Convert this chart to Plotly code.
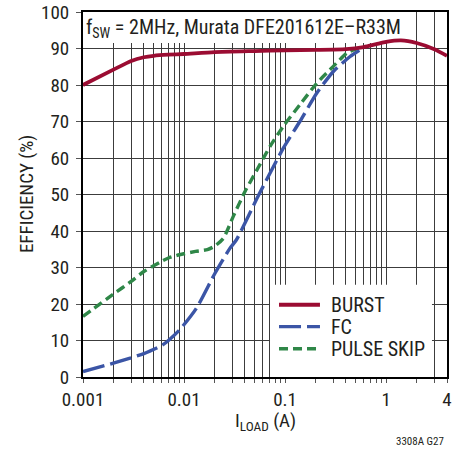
import math
import plotly.graph_objects as go

# ---- data ----
burst_x = [0.001, 0.002, 0.003, 0.004, 0.005, 0.007, 0.01, 0.02, 0.05, 0.1, 0.2, 0.4, 0.6, 0.8, 1.0, 1.4, 2.0, 3.0, 4.0]
burst_y = [80.0, 84.2, 86.6, 87.6, 88.0, 88.3, 88.5, 89.0, 89.3, 89.5, 89.6, 89.8, 90.4, 91.2, 91.8, 92.2, 91.5, 89.8, 88.0]

fc_x = [0.001, 0.002, 0.004, 0.006, 0.007, 0.0091, 0.0133, 0.0203, 0.0285, 0.033, 0.054, 0.096, 0.14, 0.206, 0.3, 0.44, 0.6]
fc_y = [1.5, 3.8, 6.4, 8.6, 10.0, 13.0, 18.9, 28.5, 35.3, 37.6, 49.5, 62.7, 70.0, 77.8, 83.7, 87.8, 90.3]

ps_x = [0.001, 0.002, 0.003, 0.004, 0.006, 0.007, 0.009, 0.013, 0.017, 0.02, 0.0245, 0.0307, 0.0401, 0.054, 0.071, 0.096, 0.14, 0.206, 0.3, 0.41, 0.5]
ps_y = [16.6, 22.7, 26.2, 28.9, 31.7, 32.6, 33.5, 34.4, 34.9, 35.8, 38.0, 44.0, 50.8, 57.3, 63.2, 68.7, 74.6, 80.5, 85.1, 88.8, 89.9]

series_names = ["BURST", "FC", "PULSE SKIP"]

x_grid = [m * 10 ** e for e in (-3, -2, -1) for m in range(1, 10)] + [1, 2, 3, 4]
x_labels = {0.001: "0.001", 0.01: "0.01", 0.1: "0.1", 1: "1", 4: "4"}
y_ticks = list(range(0, 101, 10))

FONT = "Liberation Sans Narrow, Arial Narrow, Roboto Condensed, Liberation Sans, Arial, sans-serif"
TXT = "#231f20"
RED, BLUE, GREEN = "#9b0c32", "#3b55a6", "#2f8748"
styles = [dict(color=RED, width=3.8, dash="solid"),
          dict(color=BLUE, width=3.4, dash="22px,6px"),
          dict(color=GREEN, width=3.4, dash="9px,5px")]

fig = go.Figure()
fig.add_trace(go.Scatter(x=fc_x, y=fc_y, mode="lines", name=series_names[1],
                         line=dict(**styles[1], shape="spline", smoothing=0.6)))
fig.add_trace(go.Scatter(x=ps_x, y=ps_y, mode="lines", name=series_names[2],
                         line=dict(**styles[2], shape="spline", smoothing=0.6)))
fig.add_trace(go.Scatter(x=burst_x, y=burst_y, mode="lines", name=series_names[0],
                         line=dict(**styles[0], shape="spline", smoothing=0.6)))

ticktext = []
for v in x_grid:
    lbl = ""
    for k, t in x_labels.items():
        if abs(v - k) < 1e-9:
            lbl = t
    ticktext.append(lbl)

fig.update_xaxes(type="log", range=[-3, math.log10(4)], tickvals=x_grid, ticktext=ticktext,
                 showgrid=True, gridcolor="#3c3c3c", gridwidth=1,
                 showline=True, linecolor="#000", linewidth=2, mirror=True,
                 ticks="outside", ticklen=4, tickcolor="#555", tickwidth=1,
                 automargin=False,
                 tickfont=dict(family=FONT, size=19, color=TXT),
                 zeroline=False)
fig.update_yaxes(range=[0, 100], tickvals=y_ticks,
                 showgrid=True, gridcolor="#3c3c3c", gridwidth=1,
                 showline=True, linecolor="#000", linewidth=2, mirror=True,
                 ticks="outside", ticklen=5, tickcolor="#555", tickwidth=1,
                 ticklabelstandoff=3, automargin=False,
                 tickfont=dict(family=FONT, size=19, color=TXT),
                 zeroline=False)

# axis titles
fig.add_annotation(text="I<sub>LOAD</sub> (A)", xref="paper", yref="paper", x=0.5, y=-0.1225,
                   xanchor="center", yanchor="middle", showarrow=False,
                   font=dict(family=FONT, size=19, color=TXT))
fig.add_annotation(text="EFFICIENCY (%)", xref="paper", yref="paper", x=-0.155, y=0.5,
                   xanchor="center", yanchor="middle", textangle=-90, showarrow=False,
                   font=dict(family=FONT, size=19, color=TXT))

# white boxes behind title text and legend (cover gridlines, below traces)
fig.add_shape(type="rect", xref="x", yref="y", x0=0.001, x1=1.75, y0=91.5, y1=100,
              fillcolor="white", line=dict(width=0), layer="between")
fig.add_shape(type="rect", xref="x", yref="y", x0=0.0709, x1=2.84, y0=0, y1=25.3,
              fillcolor="white", line=dict(width=0), layer="between")

# manual legend
leg_y = [0.198, 0.138, 0.0775]
for name, st, ly in zip(series_names, styles, leg_y):
    fig.add_shape(type="line", xref="paper", yref="paper", x0=0.5385, x1=0.651, y0=ly, y1=ly,
                  line=dict(color=st["color"], width=st["width"], dash=st["dash"]), layer="above")
    fig.add_annotation(text=name, xref="paper", yref="paper", x=0.676, y=ly,
                       xanchor="left", yanchor="middle", showarrow=False,
                       font=dict(family=FONT, size=20, color=TXT))

fig.add_annotation(text="f<sub>SW</sub> = 2MHz, Murata DFE201612E–R33M", xref="paper", yref="paper",
                   x=0.002, y=0.955, xanchor="left", yanchor="middle", showarrow=False,
                   font=dict(family=FONT, size=20, color=TXT))
fig.add_annotation(text="3308A G27", xref="paper", yref="paper", x=0.997, y=-0.178,
                   xanchor="right", yanchor="middle", showarrow=False,
                   font=dict(family=FONT, size=11, color=TXT))

fig.update_layout(width=466, height=451, margin=dict(l=83, r=19, t=12, b=74),
                  plot_bgcolor="white", paper_bgcolor="white",
                  showlegend=False)

fig.write_html("out.html", config={"displayModeBar": False},
               post_script="document.body.style.margin='0';document.body.style.padding='0';")
